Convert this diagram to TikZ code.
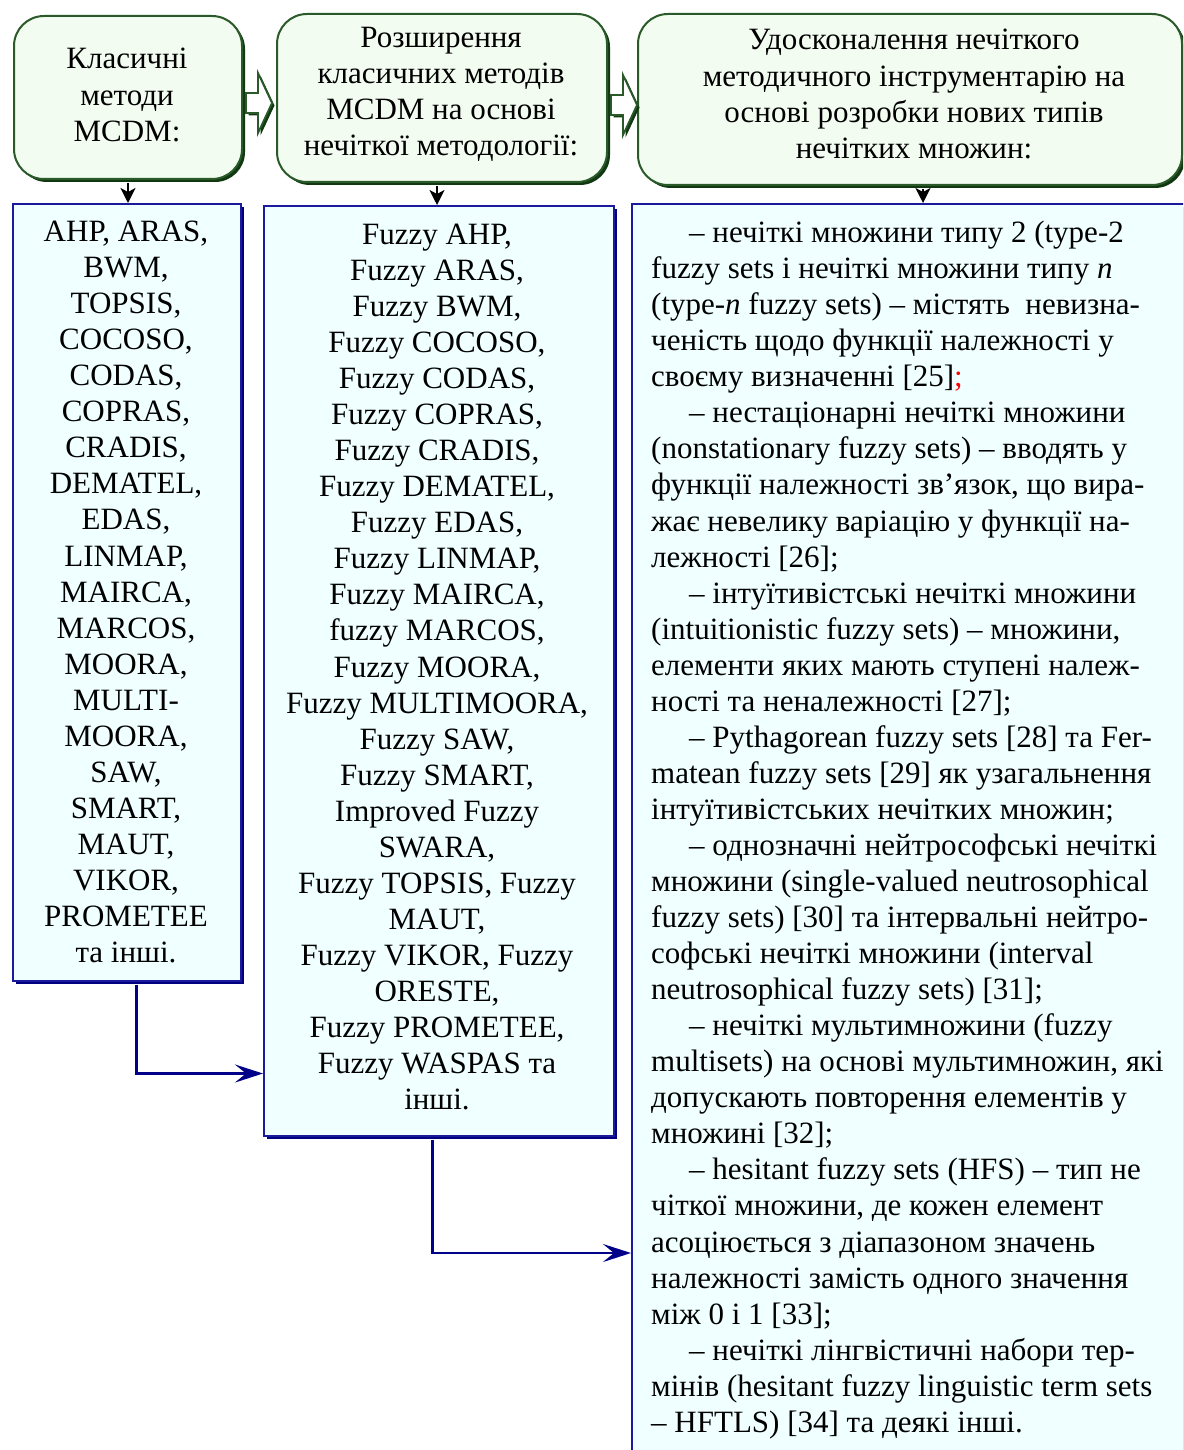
\documentclass[tikz,border=0pt]{standalone}
\usepackage{fontspec}
\setmainfont{Liberation Serif}
\usetikzlibrary{shadows,arrows.meta}

\definecolor{gline}{HTML}{2A5A2A}
\definecolor{gshade}{HTML}{123812}
\definecolor{gfill}{HTML}{F3FCF0}
\definecolor{bline}{HTML}{1A1A9A}
\definecolor{bshade}{HTML}{000080}
\definecolor{bfill}{HTML}{F0FFFF}
\definecolor{conn}{HTML}{000088}

\newcommand\bodyfont{\fontsize{31}{36.05}\selectfont}

\begin{document}
\begin{tikzpicture}[x=1pt,y=-1pt,
  titlebox/.style={draw=gline, line width=2pt, fill=gfill, rounded corners=30pt,
    inner sep=0pt, anchor=north west,
    general shadow={fill=gshade, shadow xshift=3pt, shadow yshift=-3pt}},
  listbox/.style={draw=bline, line width=1.5pt, fill=bfill, inner sep=0pt,
    anchor=north west,
    general shadow={fill=bshade, shadow xshift=3pt, shadow yshift=-3pt}},
  label/.style={font=\bodyfont, inner sep=0pt, text=black},
  blockarrow/.style={draw=gline, line width=1.8pt, fill=white, line join=miter,
    general shadow={fill=gshade, shadow xshift=2.5pt, shadow yshift=-2.5pt}},
  downarrow/.style={line width=2pt, -{Stealth[length=15pt,width=15pt,inset=4pt]}},
  linkarrow/.style={draw=conn, line width=2.8pt,
    -{Stealth[length=28pt,width=18pt,inset=11pt]}}]

\useasboundingbox (0,0) rectangle (1183,1450);
\clip (0,0) rectangle (1183,1450);

% title boxes
\node[titlebox, minimum width=228pt, minimum height=163pt] (t1) at (13,15) {};
\node[titlebox, minimum width=330pt, minimum height=168pt] (t2) at (276,13) {};
\node[titlebox, minimum width=544pt, minimum height=171pt] (t3) at (637,13) {};

% list boxes
\node[listbox, minimum width=228pt, minimum height=777pt] (b1) at (12,203) {};
\node[listbox, minimum width=350pt, minimum height=930pt] (b2) at (263,205) {};
\node[listbox, minimum width=580pt, minimum height=1270pt] (b3) at (631,203) {};

% hollow arrows between the title boxes
\draw[blockarrow] (246,93) -- (258,93) -- (258,73) -- (272,103) -- (258,133)
  -- (258,113) -- (246,113) -- cycle;
\draw[blockarrow] (611,95) -- (623,95) -- (623,75) -- (637,105) -- (623,135)
  -- (623,115) -- (611,115) -- cycle;

% title texts
\node[label, align=center] (h1) at (127,95) {Класичні\\методи\\MCDM:};
\node[label, align=center] (h2) at (441,94)
  {Розширення\\класичних методів\\MCDM на основі\\нечіткої методології:};
\node[label, align=center] (h3) at (914,94)
  {Удосконалення нечіткого\\методичного інструментарію на\\основі розробки нових типів\\нечітких множин:};

% list texts
\node[label, align=center] (l1) at (126,592)
  {AHP, ARAS,\\BWM,\\TOPSIS,\\COCOSO,\\CODAS,\\COPRAS,\\CRADIS,\\DEMATEL,\\EDAS,\\LINMAP,\\MAIRCA,\\MARCOS,\\MOORA,\\MULTI-\\MOORA,\\SAW,\\SMART,\\MAUT,\\VIKOR,\\PROMETEE\\та інші.};
\node[label, align=center] (l2) at (437,667)
  {Fuzzy AHP,\\Fuzzy ARAS,\\Fuzzy BWM,\\Fuzzy COCOSO,\\Fuzzy CODAS,\\Fuzzy COPRAS,\\Fuzzy CRADIS,\\Fuzzy DEMATEL,\\Fuzzy EDAS,\\Fuzzy LINMAP,\\Fuzzy MAIRCA,\\fuzzy MARCOS,\\Fuzzy MOORA,\\Fuzzy MULTIMOORA,\\Fuzzy SAW,\\Fuzzy SMART,\\Improved Fuzzy\\SWARA,\\Fuzzy TOPSIS, Fuzzy\\MAUT,\\Fuzzy VIKOR, Fuzzy\\ORESTE,\\Fuzzy PROMETEE,\\Fuzzy WASPAS та\\інші.};
\node[label, align=left, anchor=west] (l3) at (651,830)
  {\hspace*{38pt}– нечіткі множини типу 2 (type-2\\
   fuzzy sets і нечіткі множини типу \textit{n}\\
   (type-\textit{n} fuzzy sets) – містять\ \ невизна-\\
   ченість щодо функції належності у\\
   своєму визначенні [25]\textcolor{red}{;}\\
   \hspace*{38pt}– нестаціонарні нечіткі множини\\
   (nonstationary fuzzy sets) – вводять у\\
   функції належності зв’язок, що вира-\\
   жає невелику варіацію у функції на-\\
   лежності [26];\\
   \hspace*{38pt}– інтуїтивістські нечіткі множини\\
   (intuitionistic fuzzy sets) – множини,\\
   елементи яких мають ступені належ-\\
   ності та неналежності [27];\\
   \hspace*{38pt}– Pythagorean fuzzy sets [28] та Fer-\\
   matean fuzzy sets [29] як узагальнення\\
   інтуїтивістських нечітких множин;\\
   \hspace*{38pt}– однозначні нейтрософські нечіткі\\
   множини (single-valued neutrosophical\\
   fuzzy sets) [30] та інтервальні нейтро-\\
   софські нечіткі множини (interval\\
   neutrosophical fuzzy sets) [31];\\
   \hspace*{38pt}– нечіткі мультимножини (fuzzy\\
   multisets) на основі мультимножин, які\\
   допускають повторення елементів у\\
   множині [32];\\
   \hspace*{38pt}– hesitant fuzzy sets (HFS) – тип не\\
   чіткої множини, де кожен елемент\\
   асоціюється з діапазоном значень\\
   належності замість одного значення\\
   між 0 і 1 [33];\\
   \hspace*{38pt}– нечіткі лінгвістичні набори тер-\\
   мінів (hesitant fuzzy linguistic term sets\\
   – HFTLS) [34] та деякі інші.};

% arrows from titles to lists
\draw[downarrow] ([yshift=-3pt]t1.south) -- (t1.south |- b1.north);
\draw[downarrow] ([xshift=-5pt,yshift=-3pt]t2.south) -- ([xshift=-5pt]t2.south |- b2.north);
\draw[downarrow] ([xshift=13pt,yshift=-3pt]t3.south) -- ([xshift=13pt]t3.south |- b3.north);

% links between the lists
\draw[linkarrow] ([xshift=10pt,yshift=-3pt]b1.south) |- ([yshift=63pt]b2.south west);
\draw[linkarrow] ([xshift=-6pt,yshift=-3pt]b2.south) |- ([yshift=-1050pt]b3.north west);

\end{tikzpicture}
\end{document}
